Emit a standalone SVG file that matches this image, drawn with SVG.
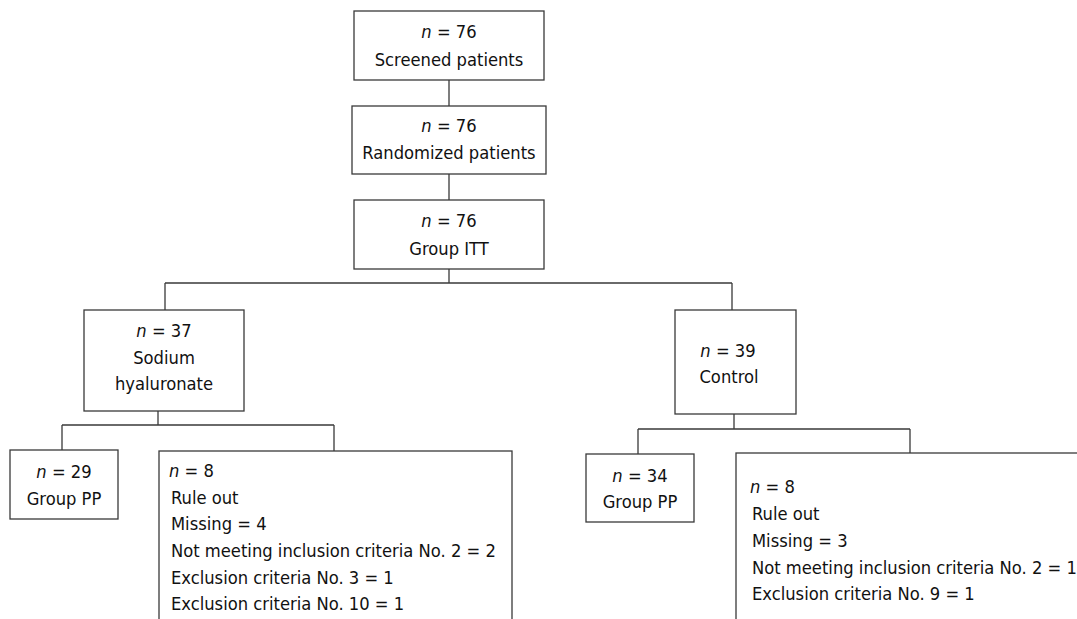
<svg xmlns="http://www.w3.org/2000/svg" width="1077" height="619" viewBox="0 0 1077 619">
<style>
  .box { fill: #ffffff; stroke: #3a3a3a; stroke-width: 1.3; }
  .conn { fill: none; stroke: #3a3a3a; stroke-width: 1.3; }
  text { font-family: "DejaVu Sans Condensed", "DejaVu Sans", sans-serif; font-stretch: condensed; font-size: 18.2px; fill: #111111; }
  .c { text-anchor: middle; }
  .i { font-style: italic; }
</style>
<rect width="1077" height="619" fill="#ffffff"/>
<g id="connectors">
  <path class="conn" d="M449 80 V106 M449 174 V200 M449 269 V283 M165 283 H732 M165 283 V310 M732 283 V310"/>
  <path class="conn" d="M158 411 V425 M62 425 H334 M62 425 V450 M334 425 V451"/>
  <path class="conn" d="M734 414 V429 M638 429 H910 M638 429 V454 M910 429 V453"/>
</g>
<g id="screened">
  <rect class="box" x="354" y="11" width="190" height="69"/>
  <text class="c" x="449" y="38"><tspan class="i">n</tspan> = 76</text>
  <text class="c" x="449" y="66">Screened patients</text>
</g>
<g id="randomized">
  <rect class="box" x="352" y="106" width="194" height="68"/>
  <text class="c" x="449" y="132"><tspan class="i">n</tspan> = 76</text>
  <text class="c" x="449" y="159">Randomized patients</text>
</g>
<g id="itt">
  <rect class="box" x="354" y="200" width="190" height="69"/>
  <text class="c" x="449" y="227"><tspan class="i">n</tspan> = 76</text>
  <text class="c" x="449" y="255">Group ITT</text>
</g>
<g id="sodium">
  <rect class="box" x="84" y="310" width="160" height="101"/>
  <text class="c" x="164" y="337"><tspan class="i">n</tspan> = 37</text>
  <text class="c" x="164" y="364">Sodium</text>
  <text class="c" x="164" y="390">hyaluronate</text>
</g>
<g id="control">
  <rect class="box" x="675" y="310" width="121" height="104"/>
  <text class="c" x="728" y="357"><tspan class="i">n</tspan> = 39</text>
  <text class="c" x="729" y="383">Control</text>
</g>
<g id="pp-left">
  <rect class="box" x="10" y="450" width="108" height="69"/>
  <text class="c" x="64" y="478"><tspan class="i">n</tspan> = 29</text>
  <text class="c" x="64" y="505">Group PP</text>
</g>
<g id="ruleout-left">
  <rect class="box" x="159" y="451" width="353" height="180"/>
  <text x="169" y="477"><tspan class="i">n</tspan> = 8</text>
  <text x="171" y="504">Rule out</text>
  <text x="171" y="530">Missing = 4</text>
  <text x="171" y="557">Not meeting inclusion criteria No. 2 = 2</text>
  <text x="171" y="584">Exclusion criteria No. 3 = 1</text>
  <text x="171" y="610">Exclusion criteria No. 10 = 1</text>
</g>
<g id="pp-right">
  <rect class="box" x="586" y="454" width="108" height="68"/>
  <text class="c" x="640" y="482"><tspan class="i">n</tspan> = 34</text>
  <text class="c" x="640" y="508">Group PP</text>
</g>
<g id="ruleout-right">
  <rect class="box" x="736" y="453" width="360" height="180"/>
  <text x="750" y="493"><tspan class="i">n</tspan> = 8</text>
  <text x="752" y="520">Rule out</text>
  <text x="752" y="547">Missing = 3</text>
  <text x="752" y="574">Not meeting inclusion criteria No. 2 = 1</text>
  <text x="752" y="600">Exclusion criteria No. 9 = 1</text>
</g>
</svg>
